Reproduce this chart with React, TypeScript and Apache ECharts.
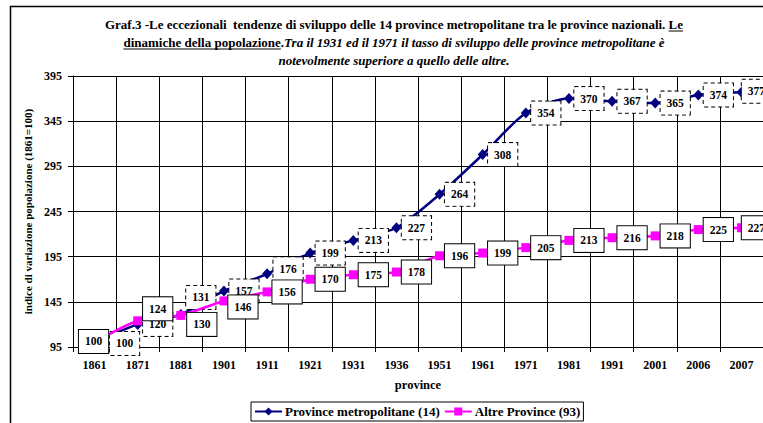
import React, { useEffect, useRef } from "react";
import * as echarts from "echarts";

const years = ["1861", "1871", "1881", "1901", "1911", "1921", "1931", "1936", "1951", "1961", "1971", "1981", "1991", "2001", "2006", "2007"];
const metroValues = [100, 120, 131, 157, 176, 199, 213, 227, 264, 308, 354, 370, 367, 365, 374, 377];
const altreValues = [100, 124, 130, 146, 156, 170, 175, 178, 196, 199, 205, 213, 216, 218, 225, 227];
const yTicks = [95, 145, 195, 245, 295, 345, 395];
const seriesNames = ["Province metropolitane (14)", "Altre Province (93)"];
const xAxisName = "province";
const yAxisName = "indice di variazione popolazione (1861=100)";

const titleLines = [
  [
    { t: "Graf.3 -Le eccezionali  tendenze di sviluppo delle 14 province metropolitane tra le province nazionali. ", i: false, u: false },
    { t: "Le", i: false, u: true },
  ],
  [
    { t: "dinamiche della popolazione", i: false, u: true },
    { t: ".", i: false, u: false },
    { t: "Tra il 1931 ed il 1971 il tasso di sviluppo delle province metropolitane è", i: true, u: false },
  ],
  [{ t: "notevolmente superiore a quello delle altre.", i: true, u: false }],
];

// label nudges (styling only)
const defaultOffset: [number, number] = [20, 0];
const metroOffsets: Record<string, [number, number]> = {
  "1861": [30, 1],
  "1881": [20, -17],
  "1911": [21, -5],
  "2007": [15, -1],
};
const altreOffsets: Record<string, [number, number]> = {
  "1861": [-1, -1],
  "1871": [20, -12],
  "1881": [21, 9],
  "1901": [19, 6],
  "2007": [15, 0],
};

const FONT = "'Liberation Serif', 'Times New Roman', serif";

function measure(text: string, font: string): number {
  const ctx = document.createElement("canvas").getContext("2d")!;
  ctx.font = font;
  return ctx.measureText(text).width;
}

export default function App() {
  const ref = useRef<HTMLDivElement>(null);
  useEffect(() => {
    if (!ref.current) return;
    const chart = echarts.init(ref.current, undefined, { renderer: "svg" });

    const titleFontSize = 13;
    const lineYs = [24, 42, 60];
    const centerX = 394;
    const graphics: any[] = [
      {
        type: "rect",
        shape: { x: 10.5, y: 6.5, width: 900, height: 600 },
        style: { fill: "none", stroke: "#000", lineWidth: 1.5 },
        silent: true,
      },
    ];
    titleLines.forEach((segs, li) => {
      const fonts = segs.map(
        (s) => `${s.i ? "italic " : ""}bold ${titleFontSize}px 'Liberation Serif'`
      );
      const widths = segs.map((s, k) => measure(s.t, fonts[k]));
      const total = widths.reduce((a, b) => a + b, 0);
      let x = centerX - total / 2;
      const y = lineYs[li];
      segs.forEach((s, k) => {
        graphics.push({
          type: "text",
          x,
          y,
          silent: true,
          style: {
            text: s.t,
            fill: "#000",
            font: fonts[k],
            align: "left",
            verticalAlign: "middle",
          },
        });
        if (s.u) {
          graphics.push({
            type: "line",
            silent: true,
            shape: { x1: x, y1: y + 7, x2: x + widths[k], y2: y + 7 },
            style: { stroke: "#000", lineWidth: 1 },
          });
        }
        x += widths[k];
      });
    });

    const labelBase = {
      show: true,
      position: "inside",
      color: "#000",
      fontFamily: FONT,
      fontWeight: "bold",
      fontSize: 11.5,
      backgroundColor: "#fff",
      borderColor: "#000",
      borderWidth: 1,
      padding: [6, 6, 5, 6],
    };

    const metroData = metroValues.map((v, i) => ({
      value: v,
      label: { offset: metroOffsets[years[i]] || defaultOffset },
    }));
    const altreData = altreValues.map((v, i) => ({
      value: v,
      label: { offset: altreOffsets[years[i]] || defaultOffset },
    }));

    chart.setOption({
      animation: false,
      grid: { left: 73, right: -4, top: 76, bottom: 76, containLabel: false },
      graphic: graphics,
      legend: {
        left: 251,
        top: 402,
        orient: "horizontal",
        itemWidth: 27,
        itemHeight: 10,
        itemGap: 4,
        padding: [3, 3, 3, 3],
        borderColor: "#000",
        borderWidth: 1,
        backgroundColor: "#fff",
        textStyle: { fontFamily: FONT, fontWeight: "bold", fontSize: 13, color: "#000", padding: [0, 0, 0, -2] },
        data: seriesNames,
      },
      xAxis: {
        type: "category",
        data: years,
        boundaryGap: true,
        name: xAxisName,
        nameLocation: "middle",
        nameGap: 31,
        nameTextStyle: { fontFamily: FONT, fontWeight: "bold", fontSize: 12.5, color: "#000" },
        axisLine: { show: true, lineStyle: { color: "#000", width: 1 } },
        axisTick: { show: true, alignWithLabel: false, length: 5, lineStyle: { color: "#000" } },
        splitLine: { show: true, lineStyle: { color: "#000", width: 1 } },
        axisLabel: { interval: 0, margin: 12, fontFamily: FONT, fontWeight: "bold", fontSize: 12, color: "#000" },
      },
      yAxis: {
        type: "value",
        min: yTicks[0],
        max: yTicks[yTicks.length - 1],
        interval: yTicks[1] - yTicks[0],
        name: yAxisName,
        nameLocation: "middle",
        nameGap: 36,
        nameTextStyle: { fontFamily: FONT, fontWeight: "bold", fontSize: 11, color: "#000" },
        axisLine: { show: true, lineStyle: { color: "#000", width: 1 } },
        axisTick: { show: true, length: 5, lineStyle: { color: "#000" } },
        splitLine: { show: true, lineStyle: { color: "#000", width: 1 } },
        axisLabel: { margin: 11, fontFamily: FONT, fontWeight: "bold", fontSize: 12, color: "#000" },
      },
      series: [
        {
          name: seriesNames[0],
          type: "line",
          data: metroData,
          color: "#000080",
          smooth: 0.25,
          symbol: "diamond",
          symbolSize: [10, 11],
          lineStyle: { width: 2.5, color: "#000080" },
          itemStyle: { color: "#000080" },
          label: { ...labelBase, borderType: [4, 3] },
          emphasis: { disabled: true },
          z: 3,
        },
        {
          name: seriesNames[1],
          type: "line",
          data: altreData,
          color: "#FF00FF",
          smooth: 0.25,
          symbol: "rect",
          symbolSize: 9,
          lineStyle: { width: 2.5, color: "#FF00FF" },
          itemStyle: { color: "#FF00FF" },
          label: { ...labelBase, borderType: "solid" },
          emphasis: { disabled: true },
          z: 4,
        },
      ],
    });
    return () => chart.dispose();
  }, []);
  return (
    <div
      ref={ref}
      style={{ position: "fixed", left: 0, top: 0, width: 763, height: 423, background: "#fff" }}
    />
  );
}
